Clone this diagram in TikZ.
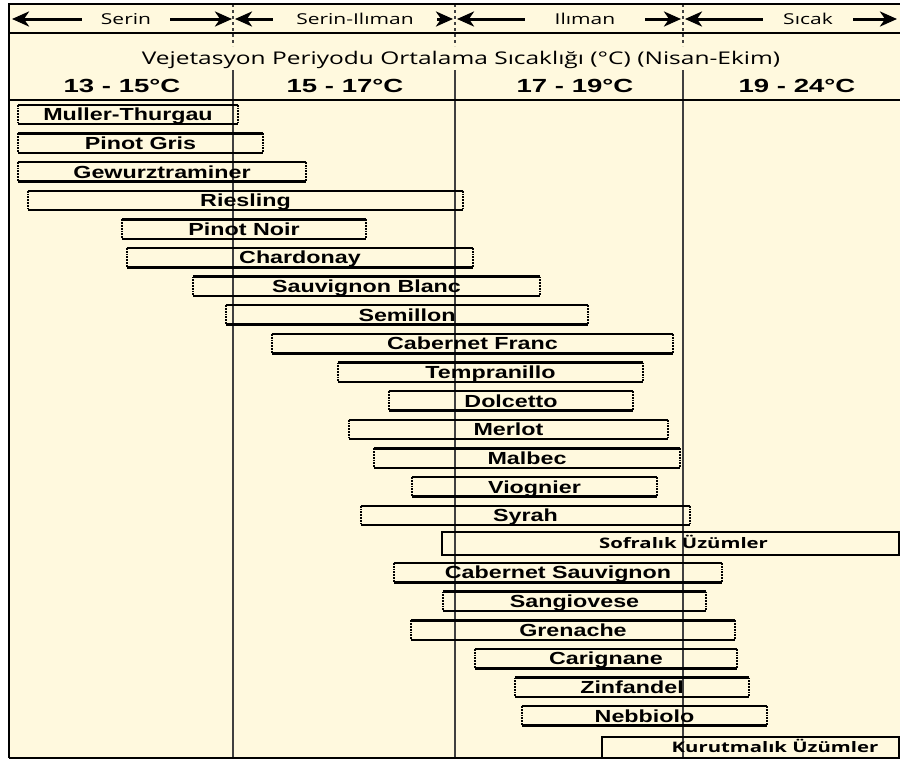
\documentclass[tikz,border=0pt]{standalone}
\usepackage{fontspec}
\usepackage{tikz}
\usetikzlibrary{arrows.meta}

\newfontfamily\grapefont{Liberation Sans}[FakeStretch=1.33]
\newfontfamily\tempfont{Liberation Sans}[FakeStretch=1.45]
\newfontfamily\headfont{Open Sans}[FakeStretch=1.4]
\definecolor{paper}{RGB}{255,249,222}

\tikzset{
  grape/.style={font=\grapefont\bfseries\fontsize{17.5}{18}\selectfont,
    minimum height=19pt, inner sep=0pt, text height=12.5pt, text depth=0pt},
  barline/.style={line width=2.4pt},
  barend/.style={line width=2.4pt, dash pattern=on 1.8pt off 1pt},
  usage/.style={draw, line width=2.4pt, inner sep=0pt,
    text height=10.5pt, text depth=0pt,
    font=\headfont\bfseries\fontsize{14.5}{15}\selectfont},
  zone/.style={font=\headfont\fontsize{15}{16}\selectfont,
    minimum height=16pt, inner sep=0pt},
  zonearrow/.style={line width=3pt, -{Stealth[length=17pt,width=15pt,inset=5pt]}},
  temp/.style={font=\tempfont\bfseries\fontsize{19}{20}\selectfont},
  divider/.style={line width=1.4pt, black!75},
  frame/.style={line width=2.6pt},
}

\begin{document}
\begin{tikzpicture}[x=1pt, y=-1pt]
  \useasboundingbox (0,0) rectangle (900,761);
  \fill[paper] (9,4) rectangle (900,758);

  % temperature band dividers
  \foreach \x in {233,455,683} {
    \draw[divider, dashed] (\x,4) -- (\x,46);
    \draw[divider] (\x,70) -- (\x,758);
  }

  % frame
  \draw[frame] (9,758) -- (9,4) -- (900,4);
  \draw[frame] (9,33) -- (900,33);
  \draw[frame] (9,100) -- (900,100);
  \draw[frame] (9,758) -- (900,758);

  % climate zones
  \node[zone, minimum width=88pt]  (serin)   at (126,19) {Serin};
  \node[zone, minimum width=164pt] (serilim) at (355,19) {Serin-Ilıman};
  \node[zone, minimum width=120pt] (iliman)  at (585,19) {Ilıman};
  \node[zone, minimum width=90pt]  (sicak)   at (808,19) {Sıcak};

  \coordinate (z0) at (12,19);
  \coordinate (z1) at (232,19);
  \coordinate (z2) at (235,19);
  \coordinate (z3) at (453,19);
  \coordinate (z4) at (457,19);
  \coordinate (z5) at (681,19);
  \coordinate (z6) at (685,19);
  \coordinate (z7) at (897,19);

  \draw[zonearrow] (serin)   -- (z0);
  \draw[zonearrow] (serin)   -- (z1);
  \draw[zonearrow] (serilim) -- (z2);
  \draw[zonearrow] (serilim) -- (z3);
  \draw[zonearrow] (iliman)  -- (z4);
  \draw[zonearrow] (iliman)  -- (z5);
  \draw[zonearrow] (sicak)   -- (z6);
  \draw[zonearrow] (sicak)   -- (z7);

  \node[font=\headfont\fontsize{17.5}{18}\selectfont] (title) at (461,60)
    {Vejetasyon Periyodu Ortalama Sıcaklığı (°C) (Nisan-Ekim)};

  \node[temp] (c13) at (122,86) {13 - 15°C};
  \node[temp] (c15) at (345,86) {15 - 17°C};
  \node[temp] (c17) at (575,86) {17 - 19°C};
  \node[temp] (c19) at (797,86) {19 - 24°C};

  % grape varieties
  \foreach \name/\row/\l/\r/\txt in {
      mt/0/18/238/Muller-Thurgau,
      pg/1/18/263/Pinot Gris,
      gw/2/18/306/Gewurztraminer,
      ri/3/28/463/Riesling,
      pn/4/122/366/Pinot Noir,
      ch/5/127/473/Chardonay,
      sb/6/193/540/Sauvignon Blanc,
      se/7/226/588/Semillon,
      cf/8/272/673/Cabernet Franc,
      te/9/338/643/Tempranillo,
      do/10/389/633/Dolcetto,
      me/11/349/668/Merlot,
      ma/12/374/680/Malbec,
      vi/13/412/657/Viognier,
      sy/14/361/690/Syrah,
      cs/16/394/722/Cabernet Sauvignon,
      sa/17/443/706/Sangiovese,
      gr/18/411/735/Grenache,
      ca/19/475/737/Carignane,
      zi/20/515/749/Zinfandel,
      ne/21/522/767/Nebbiolo} {
    \node[grape, minimum width=(\r-\l)*1pt] (\name)
      at ({(\l+\r)/2}, {114.5+28.64*\row}) {\txt};
    \draw[barline] (\name.north west) -- (\name.north east)
                   (\name.south west) -- (\name.south east);
    \draw[barend] (\name.north west) -- (\name.south west)
                  (\name.north east) -- (\name.south east);
  }

  \node[usage, minimum width=457pt, minimum height=23pt] (sofra)
    at (670.5,543.5) {\hspace*{26pt}Sofralık Üzümler};
  \node[usage, minimum width=297pt, minimum height=21pt] (kuru)
    at (750.5,747.5) {\hspace*{49pt}Kurutmalık Üzümler};
\end{tikzpicture}
\end{document}
